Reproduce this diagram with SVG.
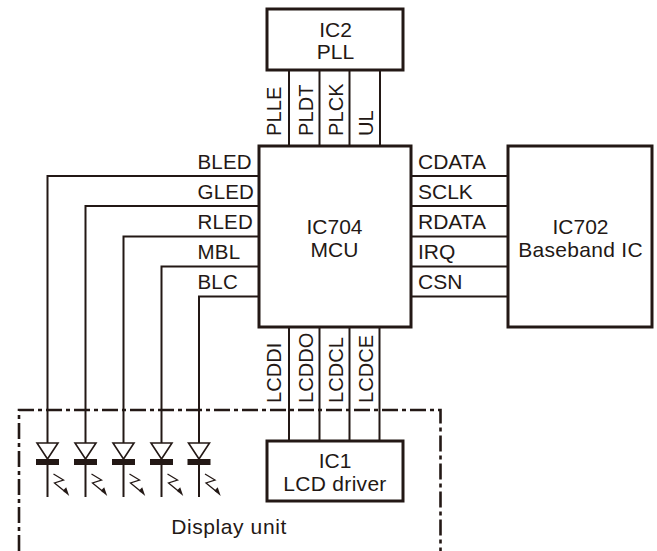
<svg xmlns="http://www.w3.org/2000/svg" width="657" height="551" viewBox="0 0 657 551">
<style>
text{font-family:"Liberation Sans",Arial,sans-serif;font-size:21px;fill:#231815}
.m{text-anchor:middle}
.l{font-size:20.500px;letter-spacing:.2px}
.r{font-size:20px;letter-spacing:.1px}
.box{fill:#fff;stroke:#231815;stroke-width:3}
.w{fill:none;stroke:#231815;stroke-width:2}
.d{fill:none;stroke:#231815;stroke-width:2.600;stroke-dasharray:16 4 4 4}
.tri{fill:#fff;stroke:#231815;stroke-width:1.600}
.bar{fill:#231815}
.bolt{fill:none;stroke:#231815;stroke-width:1.300}
</style>
<defs>
<g id="led">
<path class="w" d="M0 0V43"/>
<polygon class="tri" points="-10.500,43 10.500,43 0,59"/>
<rect class="bar" x="-11.500" y="59" width="23" height="6"/>
<path class="w" d="M0 65V97"/>
<path class="bolt" d="M6 74L16 80L7 83L18 92"/>
<polygon class="bar" points="15.300,90.700 18.700,87.300 21.700,96"/>
</g>
</defs>
<g id="connectors">
<path class="w" d="M289 70V146M319.500 70V146M349.500 70V146M380 70V146"/>
<path class="w" d="M289 327V441M319.500 327V441M349.500 327V441M379.500 327V441"/>
<path class="w" d="M411 176H508M411 206H508M411 236.500H508M411 266.500H508M411 296.500H508"/>
<path class="w" d="M47.500 400V176H259M85.500 400V206H259M123.500 400V236.500H259M161.500 400V266.500H259M199 400V296.500H259"/>
</g>
<g id="led1"><use href="#led" x="47.500" y="400"/></g>
<g id="led2"><use href="#led" x="85.500" y="400"/></g>
<g id="led3"><use href="#led" x="123.500" y="400"/></g>
<g id="led4"><use href="#led" x="161.500" y="400"/></g>
<g id="led5"><use href="#led" x="199" y="400"/></g>
<g id="display-unit">
<path class="d" d="M19 551V410H440.500V551"/>
<text class="m" x="229" y="534" style="letter-spacing:.6px">Display unit</text>
</g>
<g id="ic2"><rect class="box" x="267" y="9" width="136" height="61"/>
<text class="m" x="335.500" y="37">IC2</text><text class="m" x="335.500" y="59">PLL</text></g>
<g id="mcu"><rect class="box" x="259" y="146" width="152" height="181"/>
<text class="m" x="334.500" y="234">IC704</text><text class="m" x="334.500" y="257">MCU</text></g>
<g id="baseband"><rect class="box" x="508" y="146" width="144" height="181"/>
<text class="m" x="580.500" y="234">IC702</text><text class="m" x="580.500" y="256.500" style="letter-spacing:.3px">Baseband IC</text></g>
<g id="ic1"><rect class="box" x="267" y="441" width="136" height="60"/>
<text class="m" x="335" y="468">IC1</text><text class="m" x="335" y="491" style="letter-spacing:.3px">LCD driver</text></g>
<g id="labels">
<text class="l" x="197.500" y="168.500">BLED</text>
<text class="l" x="197.500" y="198.500">GLED</text>
<text class="l" x="197.500" y="228.500">RLED</text>
<text class="l" x="197.500" y="258.500">MBL</text>
<text class="l" x="197.500" y="288.500">BLC</text>
<text x="418" y="169">CDATA</text>
<text x="418" y="199">SCLK</text>
<text x="418" y="228.500">RDATA</text>
<text x="418" y="259">IRQ</text>
<text x="418" y="289">CSN</text>
<text class="r" transform="translate(281 136) rotate(-90)">PLLE</text>
<text class="r" transform="translate(312.500 136) rotate(-90)">PLDT</text>
<text class="r" transform="translate(342.500 136) rotate(-90)">PLCK</text>
<text class="r" transform="translate(373 136) rotate(-90)">UL</text>
<text class="r" transform="translate(281 403) rotate(-90)">LCDDI</text>
<text class="r" transform="translate(312.500 403) rotate(-90)">LCDDO</text>
<text class="r" transform="translate(342.500 403) rotate(-90)">LCDCL</text>
<text class="r" transform="translate(372.500 403) rotate(-90)">LCDCE</text>
</g>
</svg>
